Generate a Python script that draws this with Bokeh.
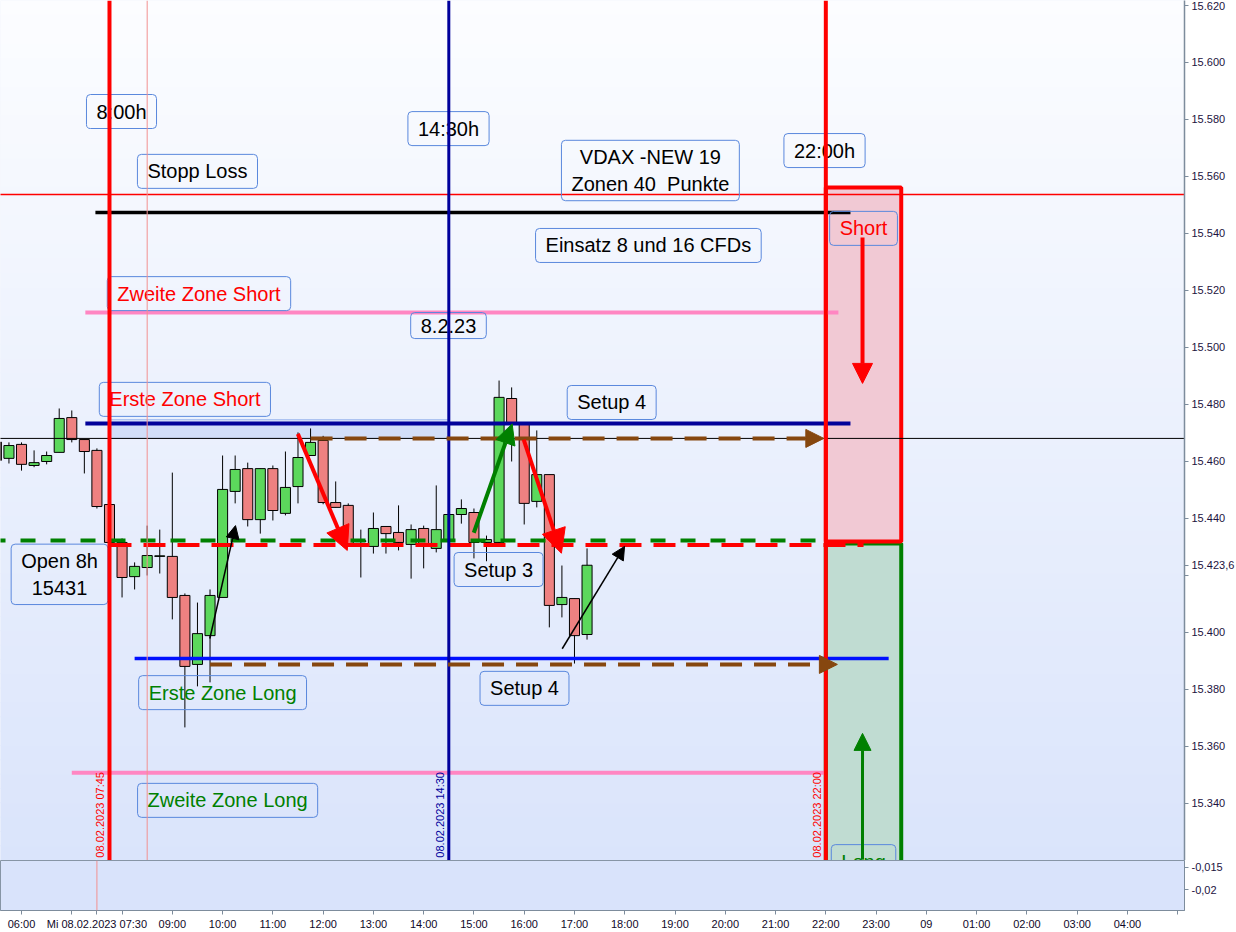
import math
import numpy as np
from bokeh.plotting import figure
from bokeh.layouts import column
from bokeh.models import Range1d, FixedTicker, Span, Arrow, NormalHead, ColumnDataSource
from bokeh.core.properties import value
from bokeh.embed import file_html
from bokeh.resources import INLINE

FONT = "Liberation Sans"

# ---------------- data (15-minute candles, 08.02.2023) ----------------
candle_times = ["05:30", "05:45", "06:00", "06:15", "06:30", "06:45", "07:00", "07:15",
                "07:30", "07:45", "08:00", "08:15", "08:30", "08:45", "09:00", "09:15",
                "09:30", "09:45", "10:00", "10:15", "10:30", "10:45", "11:00", "11:15",
                "11:30", "11:45", "12:00", "12:15", "12:30", "12:45", "13:00", "13:15",
                "13:30", "13:45", "14:00", "14:15", "14:30", "14:45", "15:00", "15:15",
                "15:30", "15:45", "16:00", "16:15", "16:30", "16:45", "17:00", "17:15"]
opens = [15466.8, 15461.1, 15466.0, 15458.6, 15460.0, 15463.2, 15475.4, 15467.7,
         15463.9, 15444.9, 15431.6, 15419.6, 15422.8, 15426.7, 15426.7, 15413.0,
         15388.8, 15398.9, 15412.3, 15449.5, 15457.5, 15439.6, 15457.5, 15441.8,
         15451.2, 15462.1, 15467.4, 15445.6, 15444.6, 15431.9, 15430.2, 15437.2,
         15435.1, 15430.9, 15436.5, 15429.5, 15432.3, 15441.4, 15442.1, 15431.6,
         15431.6, 15482.1, 15473.3, 15446.0, 15455.4, 15409.8, 15411.9, 15399.3]
highs = [15467.5, 15466.7, 15466.7, 15463.9, 15463.5, 15478.6, 15477.9, 15467.7,
         15464.6, 15445.3, 15433.0, 15424.6, 15437.5, 15436.1, 15456.1, 15413.7,
         15410.5, 15415.1, 15462.1, 15462.1, 15459.6, 15457.5, 15458.6, 15463.5,
         15470.2, 15471.6, 15469.0, 15453.0, 15445.3, 15436.1, 15442.1, 15437.2,
         15444.6, 15437.9, 15437.5, 15451.6, 15442.8, 15446.7, 15443.5, 15434.0,
         15488.4, 15486.0, 15473.7, 15470.9, 15455.4, 15423.5, 15411.9, 15429.5]
lows = [15458.0, 15459.3, 15456.8, 15458.0, 15459.0, 15463.2, 15466.7, 15455.8,
        15443.5, 15430.5, 15412.3, 15415.1, 15420.0, 15420.7, 15404.6, 15366.7,
        15381.1, 15382.5, 15412.3, 15445.3, 15437.2, 15434.7, 15439.3, 15441.1,
        15445.3, 15462.1, 15445.0, 15443.9, 15430.5, 15419.3, 15427.7, 15427.7,
        15428.8, 15418.9, 15422.5, 15428.1, 15431.6, 15438.2, 15426.0, 15425.0,
        15431.0, 15460.0, 15437.9, 15443.9, 15401.8, 15405.3, 15389.1, 15397.5]
closes = [15460.4, 15465.6, 15459.0, 15459.6, 15462.1, 15475.1, 15467.7, 15463.5,
          15444.2, 15431.6, 15419.3, 15423.2, 15427.0, 15426.9, 15412.3, 15388.1,
          15399.6, 15413.0, 15450.2, 15457.2, 15439.6, 15457.5, 15442.8, 15450.9,
          15461.4, 15466.7, 15445.6, 15443.9, 15431.2, 15432.2, 15436.5, 15434.7,
          15431.6, 15436.1, 15430.9, 15436.1, 15441.4, 15443.5, 15431.6, 15432.6,
          15482.5, 15473.3, 15445.3, 15455.4, 15409.5, 15412.3, 15398.9, 15423.6]
last_price = 15423.6
last_price_text = "15.423,6"

# price axis ticks
price_ticks = [15340, 15360, 15380, 15400, 15420, 15440, 15460, 15480, 15500,
               15520, 15540, 15560, 15580, 15600, 15620]
# hour ticks (24 = midnight of 09.02.)
hour_ticks = list(range(6, 30))
ind_ticks = [-0.015, -0.02]
ind_labels = ["-0,015", "-0,02"]

# horizontal zone lines (price, from hour, to hour)
solid_y = [15553.7, 15547.4, 15512.3, 15473.3, 15468.1, 15390.9, 15350.8]
solid_x0 = [4.0, 7.47, 7.27, 7.27, 4.0, 8.25, 7.0]
solid_x1 = [31.0, 22.49, 22.25, 22.49, 31.0, 23.25, 22.0]
solid_color = ["#ff0000", "#000000", "#ff86c2", "#02029a", "#000000", "#0010ff", "#ff86c2"]
solid_width = [1.5, 3.5, 4, 4, 1, 3.5, 4]

open_green_level = 15432.3
open_green_from = 3.593
open_red_level = 15430.7
brown_y = [15468.1, 15388.8]
brown_x0 = [11.75, 9.75]
brown_x1 = [21.96, 22.23]

band_x = [7.75, 14.5]
band_y = [15468.1, 15474.7]

short_box = dict(left=22.0, right=23.5, bottom=15431.9, top=15556.1)
long_box = dict(left=22.0, right=23.5, bottom=15250.0, top=15431.2)

vline_x = [7.75, 8.5, 14.5, 22.0]
vline_color = ["#ff0000", "#f29090", "#00009c", "#ff0000"]
vline_width = [4, 1, 3, 4]
date_text = ["08.02.2023 07:45", "08.02.2023 14:30", "08.02.2023 22:00"]
date_x = [7.75, 14.5, 22.0]
date_color = ["#ff0000", "#00009c", "#ff0000"]

# arrows (x0, y0, x1, y1)
arr_x0 = [11.497, 14.997, 15.99, 9.746, 16.756, 22.73, 22.73]
arr_y0 = [15469.7, 15435.0, 15467.7, 15397.9, 15394.3, 15538.6, 15320.3]
arr_x1 = [12.48, 15.76, 16.74, 10.257, 17.996, 22.73, 22.73]
arr_y1 = [15428.8, 15473.2, 15427.8, 15437.5, 15430.2, 15487.4, 15364.6]
arr_color = ["#ff0000", "#008000", "#ff0000", "#000000", "#000000", "#ff0000", "#008000"]
arr_width = [4, 4, 4, 1.5, 1.5, 4, 3]
arr_head = [24, 20, 24, 13, 13, 20, 17]

box_text = ["8:00h", "14:30h", "22:00h", "Stopp Loss", "VDAX -NEW 19\nZonen 40\u00a0 Punkte",
            "Einsatz 8 und 16 CFDs", "Zweite Zone Short", "8.2.23", "Erste Zone Short",
            "Setup 4", "Short", "Open 8h\n15431", "Setup 3", "Erste Zone Long", "Setup 4",
            "Zweite Zone Long", "Long"]
box_x = [7.989, 14.494, 21.974, 9.50, 18.51, 18.47, 9.53, 14.494, 9.25, 17.74, 22.75,
         6.756, 15.49, 10.0, 16.006, 10.1, 22.75]
box_y = [15582.8, 15576.8, 15569.1, 15561.8, 15562.1, 15535.8, 15518.9, 15507.7, 15481.8,
         15480.7, 15541.8, 15420.4, 15422.1, 15378.9, 15380.4, 15341.1, 15319.6]
box_color = ["#000000", "#000000", "#000000", "#000000", "#000000", "#000000", "#ff0000",
             "#000000", "#ff0000", "#000000", "#ff0000", "#000000", "#000000", "#008000",
             "#000000", "#008000", "#008000"]

crosshair_time = 7.5
crosshair_text = "Mi 08.02.2023 07:30"


def to_h(s):
    hh, mm = s.split(":")
    return int(hh) + int(mm) / 60.0


# ---------------- main price panel ----------------
xr = Range1d(5.582, 29.135)
yr = Range1d(15320.0, 15621.75)
p = figure(frame_width=1184, frame_height=860, x_range=xr, y_range=yr,
           output_backend="svg", toolbar_location=None, tools="",
           x_axis_location=None, y_axis_location="right",
           min_border_left=0, min_border_top=0, min_border_bottom=0, min_border_right=52)
p.grid.visible = False
p.outline_line_color = None
p.border_fill_color = "white"
p.background_fill_color = "#e9eefc"

# vertical background gradient (white at top -> light blue at bottom)
n = 60
edges = np.linspace(yr.start, yr.end, n + 1)
c_top = np.array([252, 253, 255])
c_bot = np.array([218, 228, 251])
cols = []
for i in range(n):
    t = (i + 0.5) / n
    c = c_bot + (c_top - c_bot) * t
    cols.append("#%02x%02x%02x" % tuple(int(round(v)) for v in c))
p.quad(left=xr.start - 1, right=xr.end + 1, bottom=edges[:-1], top=edges[1:] + 0.3,
       fill_color=cols, line_color=None)

# zone boxes
p.quad(left=[band_x[0]], right=[band_x[1]], bottom=[band_y[0]], top=[band_y[1]],
       fill_color="#d2def8", line_color="#a8bff0", line_width=1)
p.quad(left=[long_box["left"]], right=[long_box["right"]], bottom=[long_box["bottom"]],
       top=[long_box["top"]], fill_color="#c0dcd2", line_color="#008000", line_width=4)
p.quad(left=[short_box["left"]], right=[short_box["right"]], bottom=[short_box["bottom"]],
       top=[short_box["top"]], fill_color="#f1c9d4", line_color="#ff0000", line_width=4)

# candles
xs = [to_h(t) for t in candle_times]
up = [c >= o for o, c in zip(opens, closes)]
src = ColumnDataSource(dict(
    x=xs, high=highs, low=lows,
    top=[max(o, c) for o, c in zip(opens, closes)],
    bottom=[min(o, c) for o, c in zip(opens, closes)],
    color=["#5cd85c" if u else "#ee8181" for u in up]))
p.segment(x0="x", y0="high", x1="x", y1="low", source=src, line_color="black", line_width=1)
p.vbar(x="x", width=0.2, top="top", bottom="bottom", fill_color="color",
       line_color="black", line_width=1, source=src)

# horizontal lines
for y, x0, x1, c, w in zip(solid_y, solid_x0, solid_x1, solid_color, solid_width):
    p.segment(x0=[x0], y0=[y], x1=[x1], y1=[y], line_color=c, line_width=w)
p.segment(x0=[open_green_from], y0=[open_green_level], x1=[22.0], y1=[open_green_level],
          line_color="#008000", line_width=4, line_dash="15 15")
p.segment(x0=[7.75], y0=[open_red_level], x1=[22.75], y1=[open_red_level],
          line_color="#ff0000", line_width=4, line_dash="22 12")

# text boxes
tsrc = ColumnDataSource(dict(x=box_x, y=box_y, text=box_text, color=box_color))
p.text(x="x", y="y", text="text", text_color="color", source=tsrc,
       text_font=value(FONT), text_font_size="20px", text_align="center",
       text_baseline="middle", text_line_height=1.2,
       border_line_color="#5a88dd", border_line_width=1, border_radius=4,
       padding=(10, 6), background_fill_color=None)

# rotated date labels on the vertical lines
p.text(x=date_x, y=[15321.0] * 3, text=date_text, text_color=date_color,
       angle=math.pi / 2, text_align="left", text_baseline="bottom", x_offset=-3,
       text_font=value(FONT), text_font_size="11px")

# vertical lines
for x, c, w in zip(vline_x, vline_color, vline_width):
    p.add_layout(Span(location=x, dimension="height", line_color=c, line_width=w))

# brown dashed projection arrows
for y, x0, x1 in zip(brown_y, brown_x0, brown_x1):
    p.add_layout(Arrow(end=NormalHead(size=18, fill_color="#86470f", line_color="#86470f"),
                       x_start=x0, y_start=y, x_end=x1, y_end=y,
                       line_color="#86470f", line_width=4, line_dash="22 12"))

# trade arrows
for x0, y0, x1, y1, c, w, hs in zip(arr_x0, arr_y0, arr_x1, arr_y1, arr_color, arr_width, arr_head):
    p.add_layout(Arrow(end=NormalHead(size=hs, fill_color=c, line_color=c),
                       x_start=x0, y_start=y0, x_end=x1, y_end=y1,
                       line_color=c, line_width=w))

# price axis (last price shown on the scale, covering the 15.420 label as in the original)
ax = p.yaxis[0]
ax.ticker = FixedTicker(ticks=price_ticks + [last_price])
overrides = {t: "%d.%03d" % (t // 1000, t % 1000) for t in price_ticks}
overrides[15420] = ""
overrides[last_price] = last_price_text
ax.major_label_overrides = overrides
ax.axis_line_color = "#7d8c9c"
ax.axis_line_width = 1.5
ax.major_tick_line_color = "#7d8c9c"
ax.major_tick_in = 0
ax.major_tick_out = 4
ax.minor_tick_line_color = None
ax.major_label_standoff = 3
ax.major_label_text_font = FONT
ax.major_label_text_font_size = "11px"
ax.major_label_text_color = "#1c1240"

# ---------------- indicator panel ----------------
p2 = figure(frame_width=1184, frame_height=50, x_range=xr, y_range=Range1d(-0.02477, -0.01341),
            output_backend="svg", toolbar_location=None, tools="",
            x_axis_location="below", y_axis_location="right",
            min_border_left=0, min_border_top=0, min_border_bottom=0, min_border_right=52)
p2.grid.visible = False
p2.background_fill_color = "#d9e3fb"
p2.border_fill_color = "white"
p2.outline_line_color = "#8795a5"
p2.add_layout(Span(location=crosshair_time, dimension="height", line_color="#f29090", line_width=1))

ay = p2.yaxis[0]
ay.ticker = FixedTicker(ticks=ind_ticks)
ay.major_label_overrides = dict(zip(ind_ticks, ind_labels))
ay.axis_line_color = "#7d8c9c"
ay.major_tick_line_color = "#7d8c9c"
ay.major_tick_in = 0
ay.major_tick_out = 4
ay.minor_tick_line_color = None
ay.major_label_standoff = 3
ay.major_label_text_font = FONT
ay.major_label_text_font_size = "11px"
ay.major_label_text_color = "#1c1240"

axx = p2.xaxis[0]
axx.ticker = FixedTicker(ticks=hour_ticks + [crosshair_time])
labels = {}
for h in hour_ticks:
    if h in (7, 8, 29):
        labels[h] = ""
    elif h == 24:
        labels[h] = "09"
    else:
        labels[h] = "%02d:00" % (h % 24)
labels[crosshair_time] = crosshair_text
axx.major_label_overrides = labels
axx.axis_line_color = "#7d8c9c"
axx.major_tick_line_color = "#7d8c9c"
axx.major_tick_in = 0
axx.major_tick_out = 4
axx.minor_tick_line_color = None
axx.major_label_standoff = 3
axx.major_label_text_font = FONT
axx.major_label_text_font_size = "11px"
axx.major_label_text_color = "#100828"

layout = column(p, p2)
open("out.html", "w").write(file_html(layout, INLINE))
